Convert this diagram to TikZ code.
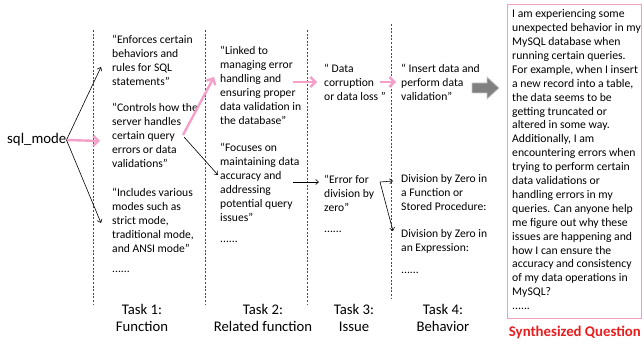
\documentclass[tikz,border=0pt]{standalone}
\usepackage{fontspec}
\setmainfont{Carlito}
\usetikzlibrary{arrows.meta}
\definecolor{pinkarr}{RGB}{245,160,200}
\definecolor{boxpink}{RGB}{236,160,198}
\definecolor{synred}{RGB}{232,30,30}
\definecolor{arrgray}{RGB}{128,128,128}
\definecolor{arredge}{RGB}{200,200,200}
\begin{document}
\begin{tikzpicture}[x=1pt,y=-1pt,
  txt/.style={font=\fontsize{11.6}{14}\selectfont, align=left, anchor=north west, inner sep=0pt},
  qtxt/.style={font=\fontsize{11.7}{13.9}\selectfont, align=left, anchor=north west, inner sep=0pt},
  task/.style={font=\fontsize{14.7}{17}\selectfont, align=center, anchor=north, inner sep=0pt},
  blk/.style={-{Straight Barb[length=3pt,width=5pt]}, line width=0.6pt},
  pk/.style={-{Straight Barb[length=5pt,width=10pt]}, draw=pinkarr, line width=2.4pt},
  vdash/.style={dash pattern=on 2pt off 1.6pt, line width=0.5pt, draw=black!70}]
\useasboundingbox (0,0) rectangle (642,344);

% dashed column separators
\draw[vdash] (93,30) -- (93,305);
\draw[vdash] (205,30) -- (205,305);
\draw[vdash] (307,30) -- (307,305);
\draw[vdash] (391,24) -- (391,298);

% source
\node[font=\fontsize{14.8}{16}\selectfont, anchor=west, inner sep=0pt] (sql) at (7,140) {sql\_mode};

% Task 1
\node[txt] (f1) at (112,34.5) {“Enforces certain\\behaviors and\\rules for SQL\\statements”};
\node[txt] (f2) at (112,102.5) {“Controls how the\\server handles\\certain query\\errors or data\\validations"};
\node[txt] (f3) at (112,187.5) {“Includes various\\modes such as\\strict mode,\\traditional mode,\\and ANSI mode”};
\node[txt] (f4) at (112,271) {......};

% Task 2
\node[txt] (r1) at (220,45.5) {“Linked to\\managing error\\handling and\\ensuring proper\\data validation in\\the database"};
\node[txt] (r2) at (220,142.5) {“Focuses on\\maintaining data\\accuracy and\\addressing\\potential query\\issues”};
\node[txt] (r3) at (220,241) {......};

% Task 3
\node[txt] (i1) at (324,63.5) {“ Data\\corruption\\or data loss "};
\node[txt] (i2) at (324,174.5) {“Error for\\division by\\zero”};
\node[txt] (i3) at (324,231) {......};

% Task 4
\node[txt] (b1) at (401,63.5) {“ Insert data and\\perform data\\validation"};
\node[txt] (b2) at (401,174.5) {Division by Zero in\\a Function or\\Stored Procedure:};
\node[txt] (b3) at (401,229.5) {Division by Zero in\\an Expression:};
\node[txt] (b4) at (401,272) {......};

% synthesized question box
\node[draw=boxpink, line width=1.4pt, anchor=north west, minimum width=134pt, minimum height=314pt, inner sep=0pt] (q) at (507,4) {};
\node[qtxt] (qt) at (512,9.5) {I am experiencing some\\unexpected behavior in my\\MySQL database when\\running certain queries.\\For example, when I insert\\a new record into a table,\\the data seems to be\\getting truncated or\\altered in some way.\\Additionally, I am\\encountering errors when\\trying to perform certain\\data validations or\\handling errors in my\\queries. Can anyone help\\me figure out why these\\issues are happening and\\how I can ensure the\\accuracy and consistency\\of my data operations in\\MySQL?\\......};
\node[font=\bfseries\fontsize{14.8}{17}\selectfont, text=synred, inner sep=0pt, anchor=east] (syn) at (641,332) {Synthesized Question};

% task labels
\node[task] (t1) at (142,304) {Task 1:\\Function};
\node[task] (t2) at (263,304) {Task 2:\\Related function};
\node[task] (t3) at (354,304) {Task 3:\\Issue};
\node[task] (t4) at (443,304) {Task 4:\\Behavior};

% arrow end points
\coordinate (e1) at (101,67);
\coordinate (e2) at (100,141);
\coordinate (e3) at (101,223);
\coordinate (s2a) at (183,135);
\coordinate (e4) at (214,77);
\coordinate (s2b) at (184,137);
\coordinate (e5) at (218,175);
\coordinate (s3a) at (293,82);
\coordinate (e6) at (317,82);
\coordinate (s4a) at (380,82);
\coordinate (e7) at (396,82);
\coordinate (s3b) at (293,182);
\coordinate (e8) at (319,182);
\coordinate (s4b) at (380,182);
\coordinate (e9) at (393,181);
\coordinate (e10) at (393,231);

% connectors
\draw[blk] (sql.east) -- (e1);
\draw[pk] (sql.east) -- (e2);
\draw[blk] (sql.east) -- (e3);
\draw[pk] (s2a) -- (e4);
\draw[blk] (s2b) -- (e5);
\draw[pk] (s3a) -- (e6);
\draw[pk] (s4a) -- (e7);
\draw[blk] (s3b) -- (e8);
\draw[blk] (s4b) -- (e9);
\draw[blk] (s4b) -- (e10);

% big gray arrow
\draw[fill=arrgray, draw=arredge, line width=0.8pt] (472,83) -- (487,83) -- (487,77) -- (499,88) -- (487,99) -- (487,93) -- (472,93) -- cycle;
\end{tikzpicture}
\end{document}
